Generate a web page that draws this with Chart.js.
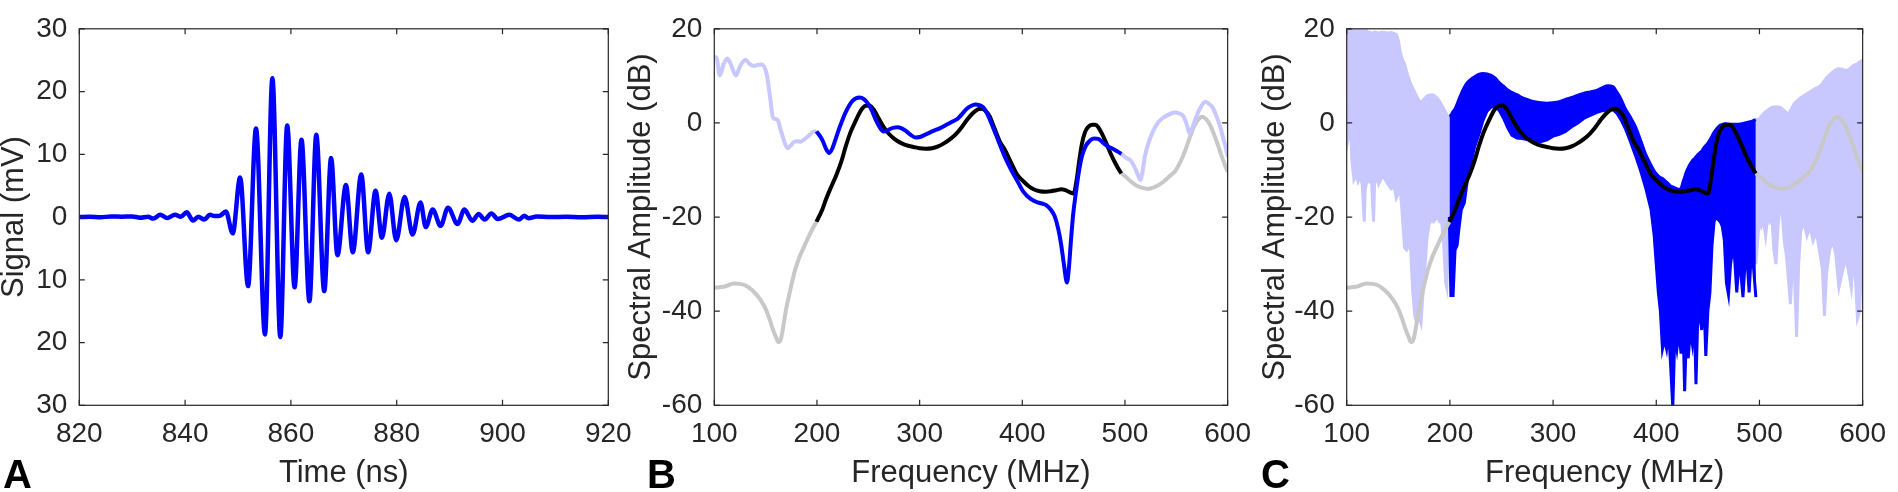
<!DOCTYPE html>
<html>
<head>
<meta charset="utf-8">
<title>Signal and spectral amplitude</title>
<script src="https://cdn.jsdelivr.net/npm/chart.js@4.4.1/dist/chart.umd.min.js"></script>
<style>
  html, body { margin: 0; padding: 0; background: #fff; }
  body { width: 1898px; height: 492px; position: relative; overflow: hidden;
         font-family: 'Liberation Sans', Arial, sans-serif; }
  .panel { position: absolute; top: 0; height: 492px; }
  .tag { position: absolute; top: 454px; font-weight: bold; font-size: 40px; line-height: 40px; color: #000; }
</style>
</head>
<body>
<div class="panel" style="left:-4px;width:650px"><canvas id="chartA"></canvas></div>
<div class="panel" style="left:623px;width:640px"><canvas id="chartB"></canvas></div>
<div class="panel" style="left:1257px;width:641px"><canvas id="chartC"></canvas></div>
<div class="tag" style="left:3px">A</div>
<div class="tag" style="left:647px">B</div>
<div class="tag" style="left:1261px">C</div>

<script>
// ---- Panel A: received signal ----
const timeNs = [820, 822, 824, 826, 828, 830, 831.5, 833, 834, 835.3, 836.6, 838.1, 839.2, 840.3, 841.5, 842.5,
  843.6, 844.7, 845.6, 846.6, 847.7, 849.0, 850.4, 851.9, 853.4, 855.1, 856.5, 858.0, 859.3, 860.7, 862.0, 863.5,
  864.8, 866.3, 867.6, 868.8, 870.4, 871.7, 873.3, 874.6, 876.0, 877.2, 878.6, 879.9, 881.5, 883.0, 884.5, 885.5,
  886.8, 888.3, 889.7, 891.5, 892.8, 894.3, 895.5, 896.6, 897.9, 899.1, 901.3, 903.1, 904.1, 904.9, 906.5, 909,
  912, 915, 918, 920];
const signalMv = [0, 0.05, -0.05, 0.1, 0.05, 0.1, -0.1, 0.05, -0.25, 0.35, -0.15, 0.35, 0.05, 0.75, -0.55, 0.05,
  -0.4, 0.35, 0.15, 0.2, 0.9, -2.6, 6.3, -11.0, 14.1, -18.7, 22.1, -19.1, 14.6, -11.2, 12.3, -13.4,
  13.1, -11.8, 9.4, -6.1, 5.1, -5.6, 6.8, -5.6, 4.2, -3.3, 3.7, -3.7, 3.2, -2.8, 2.3, -1.6,
  1.2, -1.4, 1.5, -1.1, 1.2, -0.6, 0.5, -0.4, 0.55, -0.3, 0.35, -0.4, 0.2, -0.2, 0.1, 0,
  0.05, -0.05, 0.05, 0];

// ---- Panels B/C: spectra, [MHz, dB] ----
const measLow = [[100,14.0],[102.2,13.8],[105.4,10.1],[109,12.5],[112.6,13.7],[116,12.5],[121,10.1],[125,12.0],
  [130.6,13.4],[134,12.6],[138.5,12.1],[142,12.3],[146.3,12.4],[151,10.4],[154,6.0],[157.4,1.0],[160,0.8],
  [162.1,0.5],[164,-1.0],[166.8,-3.0],[169,-4.5],[171.6,-5.4],[174.5,-4.8],[177.9,-4.0],[181,-3.9],[184.1,-4.0],
  [187,-3.6],[190.5,-3.0],[194,-2.3],[197,-1.8],[199.5,-1.8]];
const measBand = [[199.5,-1.8],[203,-2.8],[206,-4.0],[209,-5.6],[212,-6.4],[215,-5.4],[218.8,-3.0],[223,-0.4],
  [228,2.3],[234.6,4.7],[241.5,5.4],[246,5.0],[250,4.0],[253.5,2.6],[256.6,1.0],[260,-0.5],[264.5,-1.8],
  [268,-1.7],[271,-1.3],[275,-1.0],[278.6,-0.9],[282,-1.1],[286.6,-1.7],[291,-2.5],[296,-3.1],[300,-3.0],
  [305.5,-2.5],[313.3,-1.7],[320,-1.1],[326,-0.4],[332,0.3],[337,0.9],[341.7,2.0],[346,3.0],[350,3.6],
  [354.3,3.9],[358,3.8],[362,3.3],[366,1.9],[371.6,-1.0],[377,-4.0],[382.6,-7.0],[389,-9.9],[395.3,-12.4],
  [401,-14.6],[407.8,-16.1],[415,-16.9],[420,-17.2],[423.6,-17.5],[428,-18.5],[431.5,-19.8],[435,-22.5],
  [437.8,-25.8],[440.5,-30.0],[443.5,-33.9],[445.5,-30.5],[447.3,-25.2],[449.5,-19.5],[452,-15.1],[455,-10.5],
  [458.2,-7.0],[462,-4.8],[466.2,-3.7],[470,-3.3],[474,-3.4],[478,-4.1],[483.5,-5.0],[489,-5.6],[493,-6.1],
  [496.5,-6.6]];
const measHigh = [[496.5,-6.6],[501,-7.4],[505.5,-8.0],[510,-9.7],[512.5,-11.0],[515,-12.1],[517,-10.5],
  [519.5,-7.0],[523,-4.2],[527.5,-1.7],[532,0.0],[537,1.1],[541,1.6],[545,2.0],[549,2.2],[553,2.0],[557,1.4],
  [560,-0.2],[563,-2.2],[566,-0.8],[569,1.0],[572,2.6],[575,3.8],[578,4.5],[581,4.2],[585,3.4],[589,1.5],
  [593,-1.0],[596,-3.5],[598,-5.0],[600,-7.2]];
const modelLow = [[100,-35.0],[105,-34.9],[111,-34.7],[119,-34.1],[125,-34.2],[130,-34.5],[135,-35.2],[140,-36.2],
  [145,-37.6],[150,-39.5],[154,-41.8],[157,-43.8],[160,-45.5],[162.5,-46.6],[165,-45.8],[167,-43.5],[170,-39.5],
  [173,-36.5],[176,-33.6],[179,-31.0],[183,-28.5],[187,-26.5],[191,-24.6],[195,-22.8],[199.5,-21.0]];
const modelBand = [[199.5,-21.0],[205,-18.5],[209,-16.1],[214,-13.5],[219,-11.0],[224,-8.0],[228,-5.0],[233,-1.8],
  [238,0.6],[243,2.7],[247,3.6],[251,3.7],[256,2.6],[260,1.0],[265,-0.9],[270,-2.3],[276,-3.5],[282,-4.3],
  [288,-4.8],[294,-5.1],[300,-5.4],[306,-5.5],[312,-5.4],[318,-5.0],[324,-4.3],[330,-3.4],[336,-2.2],[341,-0.9],
  [346,0.6],[351,1.9],[356,2.8],[360,3.0],[364,2.6],[368,1.5],[373,-1.2],[378,-3.9],[383,-5.7],[389,-8.4],
  [395,-11.0],[401,-12.4],[406,-13.4],[411,-14.1],[417,-14.5],[423,-14.6],[428,-14.5],[433,-14.3],[438,-14.1],
  [442,-14.3],[446,-14.7],[450,-15.0],[453,-12.0],[455.5,-8.0],[458,-4.5],[461,-2.0],[464,-0.9],[468,-0.4],
  [471,-0.4],[474,-0.9],[478,-2.5],[482,-4.4],[486,-6.5],[490,-8.3],[494,-9.9],[496.5,-10.7]];
const modelHigh = [[496.5,-10.7],[501,-11.5],[505,-12.3],[509,-13.0],[514,-13.6],[519,-13.9],[523,-14.0],
  [528,-13.7],[533,-13.2],[538,-12.4],[543,-11.4],[549,-10.2],[554,-8.3],[559,-5.7],[563,-3.2],[567,-0.9],
  [571,0.6],[575,1.3],[579,0.8],[583,-0.5],[587,-2.6],[591,-5.0],[595,-7.6],[598,-9.3],[600,-10.4]];

// ---- Panel C: envelopes of all measured spectra ----
const cLeftFreq = [100,101,102,103,104,105,107,109,111,113,115,117,118,120,122,124,126,127,129,131,133,135,137,
  140,143,146,148,150,152,154,156,158,160,162,164,166,168,170,172,174,176,178,180,182,184,186,188,190,192,194,
  196,197,198,199.5];
const cLeftTop = [20.5,20.5,20.5,20.5,20.5,20.5,20.5,20.5,20.5,20.5,20.5,20.5,20.5,19.2,19.3,19.1,19.2,19.3,19.2,
  19.1,19.2,19.3,19.2,19.1,19.2,19.0,18.8,17.5,15.0,13.5,12.5,11.0,9.5,8.3,7.4,6.5,5.6,4.8,4.5,4.8,5.3,5.7,5.9,
  6.0,5.9,5.6,5.2,4.6,3.8,3.0,2.2,1.8,1.5,1.3];
const cLeftBot = [3,-4,-3,4,0,-8,-12,-11,-12.5,-11.5,-13,-21,-14,-12,-12.5,-12,-21,-13,-11.5,-13,-12,-11,-12,
  -13,-14,-13.5,-16,-15,-14,-20,-26.5,-27,-26,-27,-36,-41,-42.5,-41,-42.5,-36,-30,-24,-21.5,-20.5,-21,-20.5,
  -20,-21,-21,-26,-34,-35,-30,-22];
const cMidFreq = [199.5,201,202,203,205,207,209,211,214,217,220,224,228,232,236,240,244,248,252,256,260,265,270,
  276,282,288,294,300,306,312,318,324,330,336,342,348,353,358,362,366,370,375,380,385,390,395,398,400,402,404,
  406,408,410,412,414,416,418,420,422,424,426,427.5,429,431,433,435,437,438.5,440,442,444,446,448,450,452,454,
  456,458,460,462,464,466,468,470,472,474,476,478,480,482,484,486,488,490,492,494,496.5];
const cMidTop = [1.5,1.6,2.0,2.4,3.0,4.0,5.2,6.2,7.6,8.6,9.2,9.8,10.3,10.5,10.4,10.1,9.5,8.5,7.8,7.0,6.5,6.0,5.4,
  4.9,4.5,4.3,4.2,4.3,4.5,5.0,5.4,5.9,6.3,6.6,6.9,7.5,7.9,7.7,6.5,5.0,3.0,1.2,-0.9,-3.8,-6.8,-9.0,-10.2,-10.8,
  -11.3,-11.6,-11.8,-12.2,-12.6,-13.0,-13.4,-13.6,-13.8,-14.0,-14.1,-13.9,-12.5,-11.5,-10.5,-9.5,-8.7,-8.0,-7.6,
  -7.2,-6.8,-6.4,-6.0,-5.3,-4.8,-4.3,-3.6,-2.8,-2.0,-1.4,-0.9,-0.5,-0.3,-0.2,-0.2,-0.3,-0.3,-0.3,-0.3,-0.3,-0.3,
  -0.2,-0.1,0.0,0.1,0.2,0.3,0.5,0.7];
const cMidBot = [-20,-37,-30,-37,-27,-26,-22,-18.5,-17,-12,-9,-5,-2.5,0.5,2.5,3.4,3.5,2.6,1.0,-1.0,-2.6,-3.2,-3.3,
  -3.6,-3.8,-4.0,-3.6,-2.8,-2.4,-1.8,-0.8,0.0,1.0,1.6,2.2,2.6,2.8,2.8,2.0,0.6,-1.2,-4.0,-7.0,-10.3,-14.0,-18.5,
  -24,-30,-36,-40,-48,-46,-48,-44,-52,-60.5,-45,-48,-44,-49,-43,-57,-46,-50,-44,-47,-42,-55.5,-43,-40,-44,-36,
  -49.5,-40,-36,-26,-21,-20,-20.5,-21,-22,-25,-34,-36.5,-30,-27,-29,-36,-30,-32,-37,-30,-29,-36,-28,-30,-37];
const cRightFreq = [496.5,500,502,504,506,508,510,512,514,516,518,520,522,524,526,528,530,532,534,536,538,540,543,
  546,549,552,555,558,561,563,565,568,571,574,577,580,583,586,589,591,593,595,597,599,600];
const cRightTop = [0.7,0.9,1.5,2.0,2.4,2.7,3.0,3.3,3.4,3.4,3.4,3.3,3.0,2.6,2.2,2.0,2.6,3.4,4.2,4.6,5.0,5.3,5.8,
  6.2,6.6,7.0,7.4,7.7,8.4,9.0,9.6,10.2,10.8,11.3,11.5,11.4,11.2,11.3,11.8,12.2,12.4,12.6,13.0,13.2,13.3];
const cRightBot = [-30,-20,-22,-21,-24,-20,-21,-20,-27,-30,-22,-17.5,-19,-25,-28,-33,-38.5,-30,-33,-45.5,-30,-23,
  -21,-24,-22,-25,-23,-27,-31,-41,-32,-27,-25,-28,-35,-32,-29,-31,-35,-29,-33,-41.5,-40,-30,-24];

const TEXT = '#262626';
const FONT = "'Liberation Sans', Arial, Helvetica, sans-serif";
const BLUE = '#0000ff';
const LIGHT = '#c8c8ff';
const GRAY = '#c8c8c8';

const xy = (xs, ys) => xs.map((x, i) => ({ x: x, y: ys[i] }));
const pairs = arr => arr.map(p => ({ x: p[0], y: p[1] }));

// box around the plot with ticks pointing inwards (matlab style)
const boxTicks = {
  id: 'boxTicks',
  afterDraw(chart) {
    const ctx = chart.ctx, a = chart.chartArea, sx = chart.scales.x, sy = chart.scales.y;
    const len = 5.5;
    ctx.save();
    ctx.strokeStyle = TEXT;
    ctx.lineWidth = 1.2;
    ctx.strokeRect(a.left, a.top, a.right - a.left, a.bottom - a.top);
    ctx.beginPath();
    sx.ticks.forEach(t => {
      const px = sx.getPixelForValue(t.value);
      ctx.moveTo(px, a.bottom); ctx.lineTo(px, a.bottom - len);
      ctx.moveTo(px, a.top); ctx.lineTo(px, a.top + len);
    });
    sy.ticks.forEach(t => {
      const py = sy.getPixelForValue(t.value);
      ctx.moveTo(a.left, py); ctx.lineTo(a.left + len, py);
      ctx.moveTo(a.right, py); ctx.lineTo(a.right - len, py);
    });
    ctx.stroke();
    ctx.restore();
  }
};

function makeOptions(cfg) {
  return {
    responsive: true,
    maintainAspectRatio: false,
    animation: false,
    events: [],
    layout: { autoPadding: false, padding: { top: 9.7, right: cfg.padRight, bottom: 0, left: 0 } },
    plugins: { legend: { display: false }, tooltip: { enabled: false } },
    elements: { point: { radius: 0 } },
    scales: {
      x: {
        type: 'linear', min: cfg.xMin, max: cfg.xMax,
        grid: { display: false, drawTicks: false },
        border: { display: false },
        ticks: { stepSize: cfg.xStep, color: TEXT, font: { family: FONT, size: 28 }, padding: 12,
                 maxRotation: 0, autoSkip: false },
        title: { display: true, text: cfg.xTitle, color: TEXT, font: { family: FONT, size: 31 },
                 padding: { top: 0, bottom: 0 } },
        afterFit: s => { s.height = 86.7; }
      },
      y: {
        min: cfg.yMin, max: cfg.yMax,
        grid: { display: false, drawTicks: false },
        border: { display: false },
        ticks: { stepSize: cfg.yStep, color: TEXT, font: { family: FONT, size: 28 }, padding: 12,
                 callback: cfg.yLabel },
        title: { display: true, text: cfg.yTitle, color: TEXT, font: { family: FONT, size: 31 },
                 padding: { top: 0, bottom: 0 } },
        afterFit: s => { s.width = cfg.yWidth; }
      }
    }
  };
}

function line(data, color, width, order) {
  return { data: data, borderColor: color, borderWidth: width, fill: false, order: order,
           cubicInterpolationMode: 'monotone' };
}

// Panel A
new Chart(document.getElementById('chartA'), {
  type: 'line',
  data: { datasets: [line(xy(timeNs, signalMv), BLUE, 4.5, 0)] },
  options: makeOptions({ xMin: 820, xMax: 920, xStep: 20, yMin: -30, yMax: 30, yStep: 10,
    xTitle: 'Time (ns)', yTitle: 'Signal (mV)', yWidth: 83.3, padRight: 37.7,
    yLabel: v => Math.abs(v) }),
  plugins: [boxTicks]
});

// Panel B
new Chart(document.getElementById('chartB'), {
  type: 'line',
  data: { datasets: [
    line(pairs(measBand), BLUE, 4, 0),
    line(pairs(modelBand), '#000', 4, 1),
    line(pairs(measLow), LIGHT, 4, 2),
    line(pairs(measHigh), LIGHT, 4, 2),
    line(pairs(modelLow), GRAY, 4, 3),
    line(pairs(modelHigh), GRAY, 4, 3)
  ] },
  options: makeOptions({ xMin: 100, xMax: 600, xStep: 100, yMin: -60, yMax: 20, yStep: 20,
    xTitle: 'Frequency (MHz)', yTitle: 'Spectral Amplitude (dB)', yWidth: 91.3, padRight: 19.7 }),
  plugins: [boxTicks]
});

// Panel C: each band is an upper line filled down to its lower line
function band(xs, top, bot, color, order) {
  const upper = { data: xy(xs, top), borderColor: color, backgroundColor: color, borderWidth: 3,
                  fill: '+1', order: order, cubicInterpolationMode: 'monotone' };
  const lower = { data: xy(xs, bot), borderColor: color, borderWidth: 3, fill: false,
                  order: order, tension: 0 };
  return [upper, lower];
}

new Chart(document.getElementById('chartC'), {
  type: 'line',
  data: { datasets: [
    line(pairs(modelBand), '#000', 4, 0),
    line(pairs(modelLow), GRAY, 4, 1),
    line(pairs(modelHigh), GRAY, 4, 1),
    ...band(cMidFreq, cMidTop, cMidBot, BLUE, 2),
    ...band(cLeftFreq, cLeftTop, cLeftBot, LIGHT, 3),
    ...band(cRightFreq, cRightTop, cRightBot, LIGHT, 3)
  ] },
  options: makeOptions({ xMin: 100, xMax: 600, xStep: 100, yMin: -60, yMax: 20, yStep: 20,
    xTitle: 'Frequency (MHz)', yTitle: 'Spectral Amplitude (dB)', yWidth: 89.7, padRight: 22.3 }),
  plugins: [boxTicks]
});
</script>
</body>
</html>
